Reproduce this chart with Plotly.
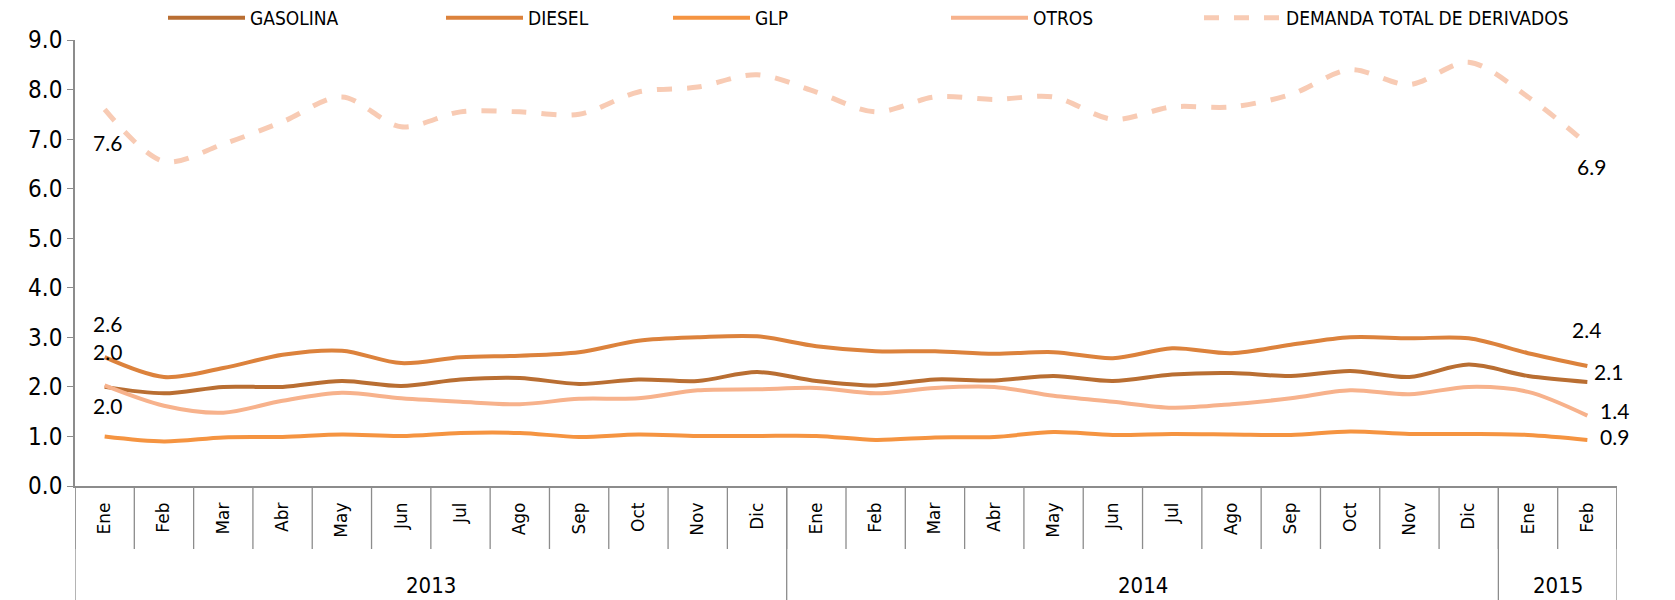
import plotly.graph_objects as go

months = ["Ene", "Feb", "Mar", "Abr", "May", "Jun", "Jul", "Ago", "Sep", "Oct", "Nov", "Dic",
          "Ene", "Feb", "Mar", "Abr", "May", "Jun", "Jul", "Ago", "Sep", "Oct", "Nov", "Dic",
          "Ene", "Feb"]
years = ["2013"] * 12 + ["2014"] * 12 + ["2015"] * 2

gasolina = [2.00, 1.87, 2.00, 2.00, 2.12, 2.02, 2.15, 2.18, 2.06, 2.15, 2.12, 2.30,
            2.12, 2.03, 2.15, 2.13, 2.22, 2.12, 2.25, 2.28, 2.22, 2.32, 2.20, 2.45,
            2.22, 2.10]
diesel = [2.60, 2.20, 2.38, 2.65, 2.73, 2.48, 2.60, 2.63, 2.70, 2.93, 3.00, 3.02,
          2.82, 2.72, 2.72, 2.67, 2.70, 2.58, 2.78, 2.68, 2.85, 3.00, 2.98, 2.98,
          2.68, 2.42]
glp = [1.00, 0.90, 0.98, 0.99, 1.04, 1.01, 1.07, 1.07, 0.99, 1.04, 1.01, 1.01,
       1.01, 0.93, 0.98, 0.99, 1.09, 1.03, 1.05, 1.04, 1.03, 1.10, 1.05, 1.05,
       1.03, 0.93]
otros = [2.03, 1.62, 1.48, 1.72, 1.88, 1.77, 1.70, 1.65, 1.76, 1.77, 1.93, 1.95,
         1.98, 1.87, 1.98, 2.00, 1.82, 1.70, 1.58, 1.65, 1.77, 1.93, 1.85, 2.00,
         1.90, 1.42]
demanda = [7.60, 6.55, 6.90, 7.35, 7.85, 7.25, 7.55, 7.55, 7.50, 7.95, 8.05, 8.30,
           7.95, 7.55, 7.85, 7.80, 7.85, 7.40, 7.65, 7.65, 7.90, 8.40, 8.10, 8.55,
           7.85, 6.90]

series_names = ["GASOLINA", "DIESEL", "GLP", "OTROS", "DEMANDA TOTAL DE DERIVADOS"]
colors = ["#B96E32", "#DC823C", "#F59441", "#F7B28C", "#F8CBB4"]
y_ticks = [0, 1, 2, 3, 4, 5, 6, 7, 8, 9]

cats = [f"{m} {y}" for m, y in zip(months, years)]

W, H = 1675, 600
ML, MR, MT, MB = 67, 66, 32, 122
plot_h = H - MT - MB
plot_w = W - ML - MR

NARROW = "Liberation Sans Narrow, DejaVu Sans Condensed, Arial Narrow, sans-serif"
LABEL_FONT = dict(family="Lato, Open Sans, sans-serif", size=21, color="#000000")
AXIS_GRAY = "#8C8C8C"

# legend entry left edges, in figure pixels
legend_px = [155, 433, 660, 938, 1191]
legend_keys = ["legend", "legend2", "legend3", "legend4", "legend5"]

fig = go.Figure()
all_series = [gasolina, diesel, glp, otros, demanda]
for name, vals, col, lk in zip(series_names, all_series, colors, legend_keys):
    dash = "dash" if name.startswith("DEMANDA") else "solid"
    width = 5 if dash == "dash" else 4
    fig.add_trace(go.Scatter(
        x=cats, y=vals, name=name, mode="lines", legend=lk,
        line=dict(color=col, width=width, shape="spline", smoothing=0.9, dash=dash),
        hoverinfo="x+y+name",
    ))

# data labels (first and last points), offsets in pixels
first, last = 0, len(cats) - 1
labels = [
    (demanda, first, 3, -33),
    (diesel, first, 3, 34),
    (gasolina, first, 3, 35),
    (otros, first, 3, -20),
    (demanda, last, 4, -22),
    (diesel, last, -1, 37),
    (gasolina, last, 21, 10),
    (otros, last, 27, 5),
    (glp, last, 27, 3),
]
for vals, idx, dx, dy in labels:
    fig.add_annotation(x=cats[idx], y=vals[idx], text=f"{vals[idx]:.1f}",
                       showarrow=False, xshift=dx, yshift=dy, font=LABEL_FONT)

# category separators below the axis
month_sep = 63 / plot_h
full_sep = MB / plot_h
for i in range(len(cats) + 1):
    fig.add_shape(type="line", xref="x", yref="paper", x0=i - 0.5, x1=i - 0.5,
                  y0=0, y1=-month_sep, line=dict(color=AXIS_GRAY, width=1.3))

# year groups
groups = []
for i, y in enumerate(years):
    if not groups or groups[-1][0] != y:
        groups.append([y, i, i])
    else:
        groups[-1][2] = i
for y, s, e in groups:
    fig.add_shape(type="line", xref="x", yref="paper", x0=s - 0.5, x1=s - 0.5,
                  y0=0, y1=-full_sep, line=dict(color=AXIS_GRAY, width=1.3))
    fig.add_annotation(x=(s + e) / 2, y=-(99 / plot_h), xref="x", yref="paper",
                       text=y, showarrow=False, yanchor="middle",
                       font=dict(family=NARROW, size=22, color="#000000"))
fig.add_shape(type="line", xref="x", yref="paper", x0=len(cats) - 0.5, x1=len(cats) - 0.5,
              y0=0, y1=-full_sep, line=dict(color=AXIS_GRAY, width=1.3))

legend_layout = {}
for lk, px in zip(legend_keys, legend_px):
    legend_layout[lk] = dict(
        orientation="h", x=(px - ML) / plot_w, y=1.0 + 22 / plot_h,
        xanchor="left", yanchor="middle",
        font=dict(family=NARROW, size=19, color="#000000"),
        itemwidth=77, bgcolor="rgba(0,0,0,0)")

fig.update_layout(
    width=W, height=H,
    margin=dict(l=ML, r=MR, t=MT, b=MB, autoexpand=False),
    paper_bgcolor="white", plot_bgcolor="white",
    showlegend=True,
    **legend_layout,
    xaxis=dict(type="category", range=[-0.5, len(cats) - 0.5],
               tickmode="array", tickvals=cats, ticktext=months, tickangle=-90,
               ticks="", ticklabelstandoff=8, showgrid=False, zeroline=False,
               showline=True, linecolor=AXIS_GRAY, linewidth=1.5,
               tickfont=dict(family="DejaVu Sans, Verdana, sans-serif", size=17, color="#000000"),
               automargin=False, fixedrange=True),
    yaxis=dict(range=[0, 9], tickmode="array", tickvals=y_ticks,
               ticktext=[f"{v:.1f}" for v in y_ticks],
               ticks="outside", ticklen=6, tickcolor=AXIS_GRAY, tickwidth=1.3,
               showgrid=False, zeroline=False,
               showline=True, linecolor=AXIS_GRAY, linewidth=1.5,
               tickfont=dict(family=NARROW, size=24, color="#000000"),
               automargin=False, fixedrange=True),
)

fig.write_html("out.html")
